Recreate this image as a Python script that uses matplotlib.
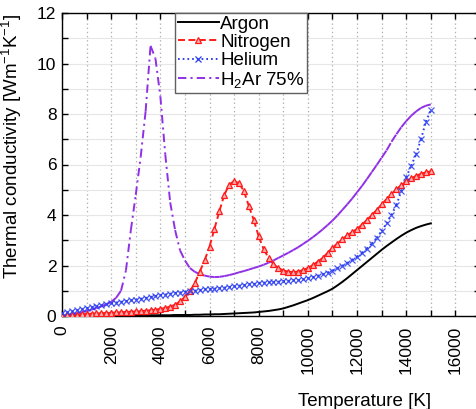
import numpy as np
import matplotlib
matplotlib.use("Agg")
import matplotlib.pyplot as plt
from matplotlib.collections import LineCollection
from matplotlib.lines import Line2D
from matplotlib.ticker import MultipleLocator

plt.rcParams['font.family'] = ['Liberation Sans', 'DejaVu Sans']
plt.rcParams['mathtext.fontset'] = 'custom'
plt.rcParams['mathtext.rm'] = 'Liberation Sans'
plt.rcParams['mathtext.it'] = 'Liberation Sans:italic'
plt.rcParams['mathtext.bf'] = 'Liberation Sans:bold'
plt.rcParams['lines.scale_dashes'] = False

# Temperature grid [K]
temperature = list(range(0, 15001, 200))

argon = [0.00, 0.00, 0.00, 0.01, 0.01, 0.01, 0.01, 0.01, 0.01, 0.01,
         0.01, 0.01, 0.02, 0.02, 0.02, 0.02, 0.02, 0.02, 0.03, 0.03,
         0.03, 0.03, 0.03, 0.04, 0.04, 0.04, 0.04, 0.05, 0.05, 0.06,
         0.06, 0.07, 0.07, 0.08, 0.09, 0.10, 0.11, 0.12, 0.13, 0.14,
         0.16, 0.18, 0.20, 0.23, 0.26, 0.30, 0.36, 0.42, 0.49, 0.56,
         0.63, 0.71, 0.80, 0.89, 0.98, 1.08, 1.21, 1.35, 1.50, 1.66,
         1.82, 1.98, 2.14, 2.30, 2.46, 2.62, 2.77, 2.91, 3.05, 3.18,
         3.30, 3.40, 3.49, 3.56, 3.62, 3.67]

nitrogen = [0.00, 0.02, 0.04, 0.05, 0.07, 0.08, 0.09, 0.10, 0.11, 0.12,
            0.13, 0.14, 0.15, 0.16, 0.17, 0.18, 0.19, 0.21, 0.23, 0.25,
            0.28, 0.32, 0.37, 0.45, 0.58, 0.75, 0.98, 1.30, 1.75, 2.20,
            2.75, 3.45, 4.15, 4.80, 5.20, 5.35, 5.25, 4.95, 4.35, 3.80,
            3.15, 2.65, 2.30, 2.05, 1.90, 1.80, 1.76, 1.74, 1.76, 1.82,
            1.90, 2.02, 2.15, 2.30, 2.50, 2.70, 2.87, 3.03, 3.20, 3.32,
            3.45, 3.62, 3.80, 4.00, 4.20, 4.42, 4.63, 4.83, 5.02, 5.18,
            5.33, 5.45, 5.55, 5.63, 5.69, 5.73]

helium = [0.10, 0.14, 0.18, 0.22, 0.26, 0.30, 0.34, 0.38, 0.42, 0.46,
          0.50, 0.53, 0.56, 0.59, 0.62, 0.65, 0.68, 0.71, 0.75, 0.79,
          0.83, 0.85, 0.88, 0.91, 0.93, 0.96, 0.98, 1.00, 1.03, 1.05,
          1.07, 1.08, 1.10, 1.12, 1.15, 1.17, 1.20, 1.22, 1.25, 1.27,
          1.30, 1.32, 1.33, 1.35, 1.36, 1.38, 1.39, 1.41, 1.42, 1.45,
          1.49, 1.54, 1.59, 1.65, 1.72, 1.80, 1.89, 1.99, 2.10, 2.22,
          2.35, 2.50, 2.67, 2.87, 3.10, 3.37, 3.67, 4.00, 4.40, 4.95,
          5.50, 5.95, 6.40, 7.00, 7.70, 8.15]

h2ar75 = [0.00, 0.03, 0.07, 0.11, 0.15, 0.20, 0.25, 0.31, 0.38, 0.46,
          0.56, 0.72, 1.00, 1.80, 3.40, 4.80, 6.30, 8.10, 10.70, 10.20,
          8.70, 6.40, 4.50, 3.40, 2.60, 2.20, 1.90, 1.75, 1.66, 1.60,
          1.56, 1.54, 1.55, 1.58, 1.62, 1.67, 1.73, 1.78, 1.84, 1.90,
          1.96, 2.03, 2.11, 2.20, 2.30, 2.40, 2.50, 2.61, 2.72, 2.85,
          2.98, 3.12, 3.27, 3.43, 3.60, 3.78, 3.98, 4.20, 4.42, 4.65,
          4.90, 5.15, 5.42, 5.70, 5.98, 6.27, 6.56, 6.90, 7.20, 7.48,
          7.72, 7.93, 8.10, 8.24, 8.33, 8.38]

labels = ['Argon', 'Nitrogen', 'Helium', 'H$_2$Ar 75%']

c_ar = 'black'
c_n2 = '#ff1a1a'
c_he = '#2a3cf0'
c_h2 = '#9030e6'

fig = plt.figure(figsize=(4.76, 4.09), dpi=100)
ax = fig.add_axes([62 / 476, (409 - 316) / 409, (480 - 62) / 476, 303 / 409])

T = np.array(temperature, dtype=float)


def seg_line(y, color, dashes, lw=1.4, zorder=3):
    y = np.asarray(y, dtype=float)
    pts = np.column_stack([T, y])
    segs = np.stack([pts[:-1], pts[1:]], axis=1)
    lc = LineCollection(segs, colors=color, linewidths=lw,
                        linestyles=[(0, dashes)], zorder=zorder)
    lc.set_capstyle('butt')
    ax.add_collection(lc)


ax.plot(T, argon, color=c_ar, lw=1.4, zorder=3)
seg_line(nitrogen, c_n2, (5, 2.5))
ax.plot(T, nitrogen, ls='none', marker='^', ms=5, mfc='#ffb0b0',
        mec=c_n2, mew=0.9, zorder=4)
seg_line(helium, c_he, (1.2, 2.2))
ax.plot(T, helium, ls='none', marker='x', ms=3.8, mec=c_he, mew=0.9,
        zorder=4, alpha=0.85)
seg_line(h2ar75, c_h2, (6, 3, 1.5, 3))

ax.set_xlim(0, 17000)
ax.set_ylim(0, 12)
ax.xaxis.set_major_locator(MultipleLocator(2000))
ax.xaxis.set_minor_locator(MultipleLocator(1000))
ax.yaxis.set_major_locator(MultipleLocator(2))
ax.yaxis.set_minor_locator(MultipleLocator(1))

ax.grid(True, which='both', axis='x', color='#b0b0b0', ls=(0, (1, 2)), lw=0.9, zorder=0)
ax.grid(True, which='both', axis='y', color='#e6e6e6', ls='-', lw=0.8, zorder=0)
ax.set_axisbelow(True)

ax.tick_params(which='both', direction='in', top=True, right=True,
               length=4, width=1.0, labelsize=12.5)
ax.tick_params(axis='x', which='major', pad=7)
ax.tick_params(axis='y', which='major', pad=4)
for lab in ax.get_xticklabels():
    lab.set_rotation(90)
for s in ax.spines.values():
    s.set_linewidth(1.0)

ax.set_xlabel('Temperature [K]', fontsize=13.5)
ax.set_ylabel('Thermal conductivity [Wm$^{-1}$K$^{-1}$]', fontsize=13.5)
ax.xaxis.set_label_coords(0.725, -0.255)
ax.yaxis.set_label_coords(-0.092, 0.56)

handles = [
    Line2D([], [], color=c_ar, lw=1.4),
    Line2D([], [], color=c_n2, lw=1.4, ls=(0, (5, 2.5)), marker='^', ms=5,
           mfc='#ffb0b0', mec=c_n2, mew=0.9),
    Line2D([], [], color=c_he, lw=1.4, ls=(0, (1.2, 2.2)), marker='x', ms=3.8,
           mec=c_he, mew=0.9),
    Line2D([], [], color=c_h2, lw=1.4, ls=(0, (6, 3, 1.5, 3))),
]
leg = ax.legend(handles, labels, loc='upper left',
                bbox_to_anchor=((175 - 62) / 418, 1.0), borderaxespad=0,
                fontsize=13.5, numpoints=1, handlelength=2.2,
                handletextpad=0.05, labelspacing=0.05, borderpad=0.15,
                fancybox=False, framealpha=1, edgecolor='#606060')
leg.get_frame().set_linewidth(1.0)

fig.savefig('out.png', dpi=100)
